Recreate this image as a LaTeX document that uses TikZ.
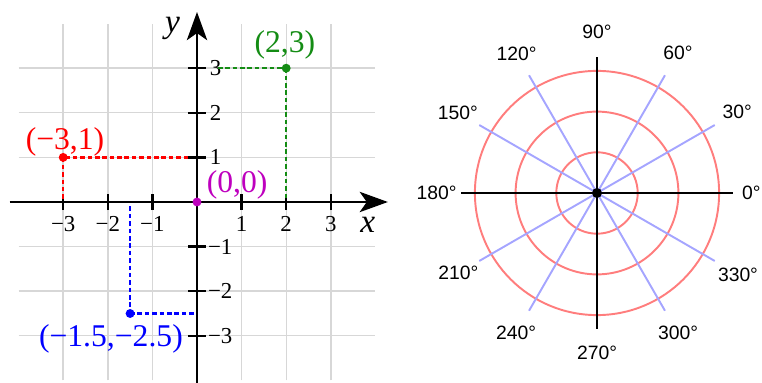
\documentclass[tikz,border=0pt]{standalone}
\usepackage{fontspec}
\setmainfont{Liberation Serif}
\newfontfamily\polarfont{Liberation Sans}
\usetikzlibrary{arrows.meta}

\definecolor{ptred}{RGB}{255,0,0}
\definecolor{ptgreen}{RGB}{20,140,20}
\definecolor{ptblue}{RGB}{0,0,255}
\definecolor{ptmagenta}{RGB}{190,0,190}
\definecolor{ringred}{RGB}{255,125,125}
\definecolor{rayblue}{RGB}{165,165,255}
\definecolor{gridgray}{RGB}{215,215,215}

\tikzset{
  gridline/.style={gridgray, line width=0.8pt},
  axisline/.style={line width=1.7pt, -{Stealth[length=16pt, width=11.5pt, inset=4pt]}},
  tickmark/.style={line width=1.3pt},
  guide/.style={line width=1.4pt, dash pattern=on 2.6pt off 1.6pt},
  ticklabel/.style={font=\fontsize{13}{15}\selectfont, inner sep=0pt},
  ptlabel/.style={font=\fontsize{18}{20}\selectfont, inner sep=0pt},
  anglabel/.style={font=\polarfont\fontsize{11}{13}\selectfont, inner sep=0pt},
}

\begin{document}
\begin{tikzpicture}
				\useasboundingbox (0,0) rectangle (15.24,-7.66);
				
				% Cartesian plane
				\begin{scope}[shift={(3.94,-4.04)}, x=0.892cm, y=0.892cm]
				\draw[gridline] (-3,-4) -- (-3,4) (-2,-4) -- (-2,4) (-1,-4) -- (-1,4)
				                (1,-4) -- (1,4) (2,-4) -- (2,4) (3,-4) -- (3,4);
				\draw[gridline] (-4,-3) -- (4,-3) (-4,-2) -- (4,-2) (-4,-1) -- (4,-1)
				                (-4,1) -- (4,1) (-4,2) -- (4,2) (-4,3) -- (4,3);
				
				\coordinate (xstart) at (-4.2,0);
				\coordinate (xend) at (4.28,0);
				\coordinate (ystart) at (0,-4.2);
				\coordinate (yend) at (0,4.26);
				\draw[axisline] (xstart) -- (xend);
				\draw[axisline] (ystart) -- (yend);
				\node[font=\fontsize{19}{21}\selectfont\itshape] (xlab) at (3.83,-0.52) {x};
				\node[font=\fontsize{19}{21}\selectfont\itshape] (ylab) at (-0.55,3.9) {y};
				
				% ticks
				\draw[tickmark] (-3,-0.18) -- (-3,0.18) (-2,-0.18) -- (-2,0.18) (-1,-0.18) -- (-1,0.18)
				                (1,-0.18) -- (1,0.18) (2,-0.18) -- (2,0.18) (3,-0.18) -- (3,0.18);
				\draw[tickmark] (-0.2,-3) -- (0.2,-3) (-0.2,-2) -- (0.2,-2) (-0.2,-1) -- (0.2,-1)
				                (-0.2,1) -- (0.2,1) (-0.2,2) -- (0.2,2) (-0.2,3) -- (0.2,3);
				\node[ticklabel] (tx1) at (-3,-0.5) {−3};
				\node[ticklabel] (tx2) at (-2,-0.5) {−2};
				\node[ticklabel] (tx3) at (-1,-0.5) {−1};
				\node[ticklabel] (tx4) at (1,-0.5) {1};
				\node[ticklabel] (tx5) at (2,-0.5) {2};
				\node[ticklabel] (tx6) at (3,-0.5) {3};
				\node[ticklabel, anchor=west] (ty1) at (0.24,-3) {−3};
				\node[ticklabel, anchor=west] (ty2) at (0.24,-2) {−2};
				\node[ticklabel, anchor=west] (ty3) at (0.24,-1) {−1};
				\node[ticklabel, anchor=west] (ty4) at (0.28,1) {1};
				\node[ticklabel, anchor=west] (ty5) at (0.28,2) {2};
				\node[ticklabel, anchor=west] (ty6) at (0.28,3) {3};
				
				% points
				\coordinate (pgreen) at (2,3);
				\coordinate (pred) at (-3,1);
				\coordinate (pblue) at (-1.5,-2.5);
				\coordinate (porigin) at (0,0);
				\draw[guide, ptgreen] (0.47,3) -- (pgreen);
				\draw[guide, ptgreen] (pgreen) -- (2,0.05);
				\draw[guide, ptred] (-0.2,1) -- (pred);
				\draw[guide, ptred] (pred) -- (-3,0.05);
				\draw[guide, ptblue] (-1.5,-0.1) -- (pblue);
				\draw[guide, ptblue] (pblue) -- (-0.05,-2.5);
				\fill[ptgreen] (pgreen) circle (0.1);
				\fill[ptred] (pred) circle (0.1);
				\fill[ptblue] (pblue) circle (0.1);
				\fill[ptmagenta] (porigin) circle (0.1);
				\node[ptlabel, ptgreen] (lgreen) at (1.97,3.52) {(2,3)};
				\node[ptlabel, ptred] (lred) at (-2.96,1.35) {(−3,1)};
				\node[ptlabel, ptmagenta] (lorigin) at (0.9,0.38) {(0,0)};
				\node[ptlabel, ptblue] (lblue) at (-1.93,-3.07) {(−1.5,−2.5)};
				\end{scope}
				
				% Polar plane
				\begin{scope}[shift={(11.94,-3.86)}, x=0.814cm, y=0.814cm]
				\draw[ringred, line width=1.1pt] (0,0) circle (1) (0,0) circle (2) (0,0) circle (3);
				\draw[rayblue, line width=1.1pt] (30:3.34) -- (210:3.34) (60:3.34) -- (240:3.34)
				                                 (120:3.34) -- (300:3.34) (150:3.34) -- (330:3.34);
				\draw[line width=1.1pt] (-3.34,0) -- (3.34,0) (0,-3.34) -- (0,3.34);
				\fill (0,0) circle (0.123);
				\node[anglabel, anchor=east] (a0) at (4.03,0) {0°};
				\node[anglabel] (a30) at (30:3.98) {30°};
				\node[anglabel] (a60) at (60:3.98) {60°};
				\node[anglabel] (a90) at (90:3.96) {90°};
				\node[anglabel] (a120) at (120:3.95) {120°};
				\node[anglabel] (a150) at (150:3.95) {150°};
				\node[anglabel] (a180) at (180:3.94) {180°};
				\node[anglabel] (a210) at (210:3.93) {210°};
				\node[anglabel] (a240) at (240:3.98) {240°};
				\node[anglabel] (a270) at (270:3.92) {270°};
				\node[anglabel] (a300) at (300:3.98) {300°};
				\node[anglabel] (a330) at (330:4.0) {330°};
				\end{scope}
			\end{tikzpicture}
\end{document}
